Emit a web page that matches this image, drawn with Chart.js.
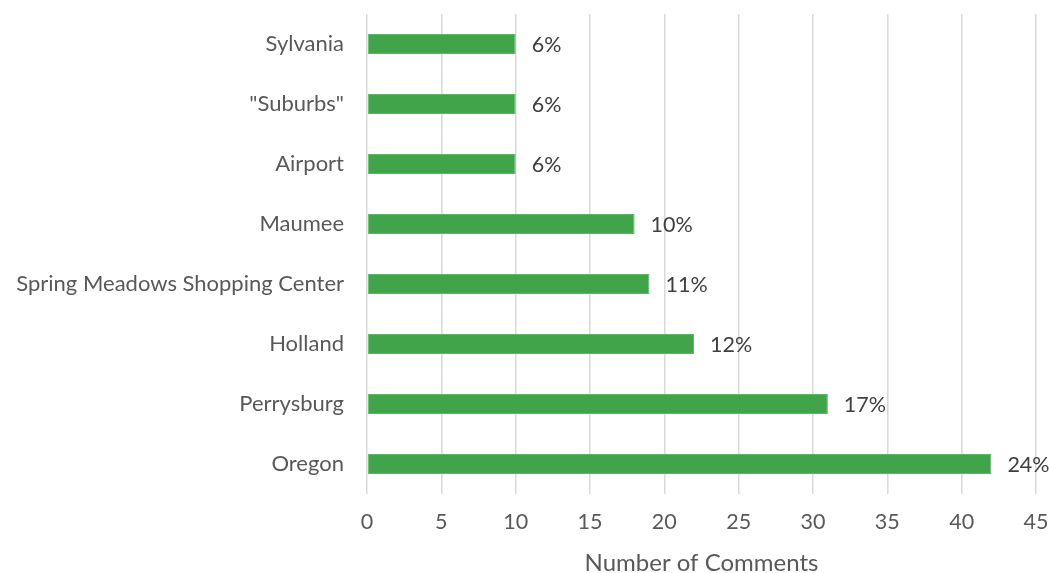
<!DOCTYPE html>
<html>
<head>
<meta charset="utf-8">
<script src="https://cdn.jsdelivr.net/npm/chart.js@4/dist/chart.umd.min.js"></script>
<style>
  html, body { margin: 0; padding: 0; background: #ffffff; }
  #wrap { width: 1049px; height: 573px; position: relative; }
</style>
</head>
<body>
<div id="wrap"><canvas id="c" width="1049" height="573"></canvas></div>
<script>
const categories = ['Sylvania', '"Suburbs"', 'Airport', 'Maumee', 'Spring Meadows Shopping Center', 'Holland', 'Perrysburg', 'Oregon'];
const commentCounts = [10, 10, 10, 18, 19, 22, 31, 42];
const percentLabels = ['6%', '6%', '6%', '10%', '11%', '12%', '17%', '24%'];
const xTicks = [0, 5, 10, 15, 20, 25, 30, 35, 40, 45];
const xTitle = 'Number of Comments';

const FONT = 'Lato, "Open Sans", sans-serif';

const valueLabels = {
  id: 'valueLabels',
  afterDatasetsDraw(chart) {
    const ctx = chart.ctx;
    const meta = chart.getDatasetMeta(0);
    ctx.save();
    ctx.font = '21.5px ' + FONT;
    ctx.fillStyle = '#404040';
    ctx.textAlign = 'left';
    ctx.textBaseline = 'middle';
    meta.data.forEach((bar, i) => {
      ctx.fillText(percentLabels[i], bar.x + 16, bar.y + 1);
    });
    ctx.restore();
  }
};

new Chart(document.getElementById('c'), {
  type: 'bar',
  data: {
    labels: categories,
    datasets: [{
      data: commentCounts,
      backgroundColor: '#41a34a',
      borderColor: '#5cb864',
      borderWidth: 1,
      borderSkipped: false,
      barPercentage: 0.667,
      categoryPercentage: 0.5
    }]
  },
  options: {
    indexAxis: 'y',
    responsive: false,
    animation: false,
    layout: { padding: { top: 14, right: 13, bottom: 0, left: 0 } },
    plugins: {
      legend: { display: false },
      tooltip: { enabled: false }
    },
    scales: {
      x: {
        min: 0,
        max: 45,
        afterBuildTicks(scale) { scale.ticks = xTicks.map(v => ({ value: v })); },
        afterFit(scale) {
          scale.height = 79;
          scale.paddingLeft = 0;
          scale.paddingRight = 0;
        },
        grid: { color: '#d9d9d9', lineWidth: 1.5, drawTicks: false },
        border: { display: false },
        ticks: {
          padding: 15,
          color: '#595959',
          font: { family: FONT, size: 21.5 }
        },
        title: {
          display: true,
          text: xTitle,
          color: '#595959',
          font: { family: FONT, size: 24, lineHeight: 0.85 },
          padding: { top: 4, bottom: 0 }
        }
      },
      y: {
        afterFit(scale) {
          scale.width = 367;
          scale.paddingTop = 0;
          scale.paddingBottom = 0;
        },
        grid: { display: false, drawTicks: false },
        border: { display: false },
        ticks: {
          padding: 23,
          color: '#595959',
          font: { family: FONT, size: 22 }
        }
      }
    }
  },
  plugins: [valueLabels]
});
</script>
</body>
</html>
